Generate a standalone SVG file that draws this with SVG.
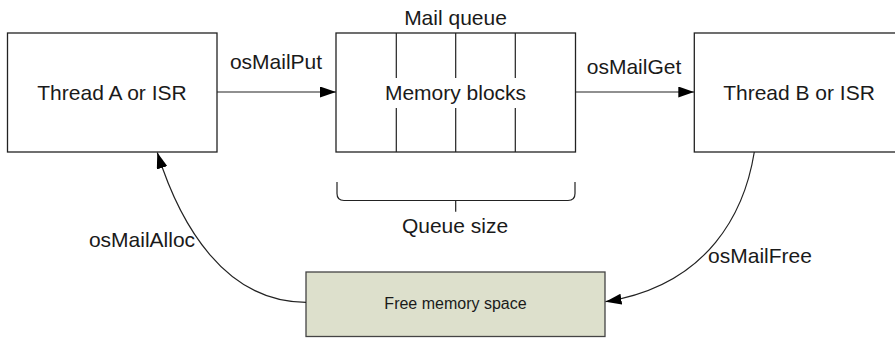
<svg xmlns="http://www.w3.org/2000/svg" width="895" height="339" viewBox="0 0 895 339">
  <defs>
    <marker id="arrow" markerWidth="16" markerHeight="11" refX="16" refY="5.5" orient="auto" markerUnits="userSpaceOnUse">
      <path d="M0,0 L16,5.5 L0,11 Z" fill="#000"/>
    </marker>
    <style>
      .box { fill: #fff; stroke: #222; stroke-width: 1.3; }
      .line { fill: none; stroke: #222; stroke-width: 1.2; }
      .t { font-family: "Liberation Sans", Arial, sans-serif; font-size: 21px; fill: #1a1a1a; text-anchor: middle; }
      .ts { font-family: "Liberation Sans", Arial, sans-serif; font-size: 16px; fill: #1a1a1a; text-anchor: middle; }
    </style>
  </defs>
  <rect width="895" height="339" fill="#fff"/>

  <g id="threadA">
    <rect class="box" x="7.5" y="33" width="209.5" height="119"/>
    <text class="t" x="112" y="99.5">Thread A or ISR</text>
  </g>

  <g id="mailQueue">
    <rect class="box" x="336" y="33" width="239.5" height="119"/>
    <path class="line" d="M396.3,33 V78 M455.7,33 V78 M515.3,33 V78 M396.3,108 V152 M455.7,108 V152 M515.3,108 V152"/>
    <text class="t" x="455.5" y="25">Mail queue</text>
    <text class="t" x="455.5" y="99.5">Memory blocks</text>
  </g>

  <g id="queueSize">
    <path class="line" stroke="#444" d="M337,182 V193.5 Q337,200.5 344,200.5 H568 Q575,200.5 575,193.5 V182 M455.7,200.5 V211.7"/>
    <text class="t" x="455" y="233.3">Queue size</text>
  </g>

  <g id="threadB">
    <rect class="box" x="694.3" y="33" width="215" height="119"/>
    <text class="t" x="799" y="99.5">Thread B or ISR</text>
  </g>

  <g id="freeMemory">
    <rect x="306" y="272" width="299" height="64.5" fill="#dde0cc" stroke="#444" stroke-width="1.3"/>
    <text class="ts" x="455.5" y="309.3">Free memory space</text>
  </g>

  <g id="connectors">
    <line class="line" x1="217" y1="92" x2="336" y2="92" marker-end="url(#arrow)"/>
    <text class="t" x="276" y="69">osMailPut</text>
    <line class="line" x1="575.5" y1="92" x2="694.3" y2="92" marker-end="url(#arrow)"/>
    <text class="t" x="634" y="74">osMailGet</text>
    <path class="line" d="M306,302.3 C225,302.3 180,225 157.3,152.5" marker-end="url(#arrow)"/>
    <text class="t" x="142" y="247.3">osMailAlloc</text>
    <path class="line" d="M754.3,152 C745,210 710,285 605.5,301.7" marker-end="url(#arrow)"/>
    <text class="t" x="760" y="262.7">osMailFree</text>
  </g>
</svg>
